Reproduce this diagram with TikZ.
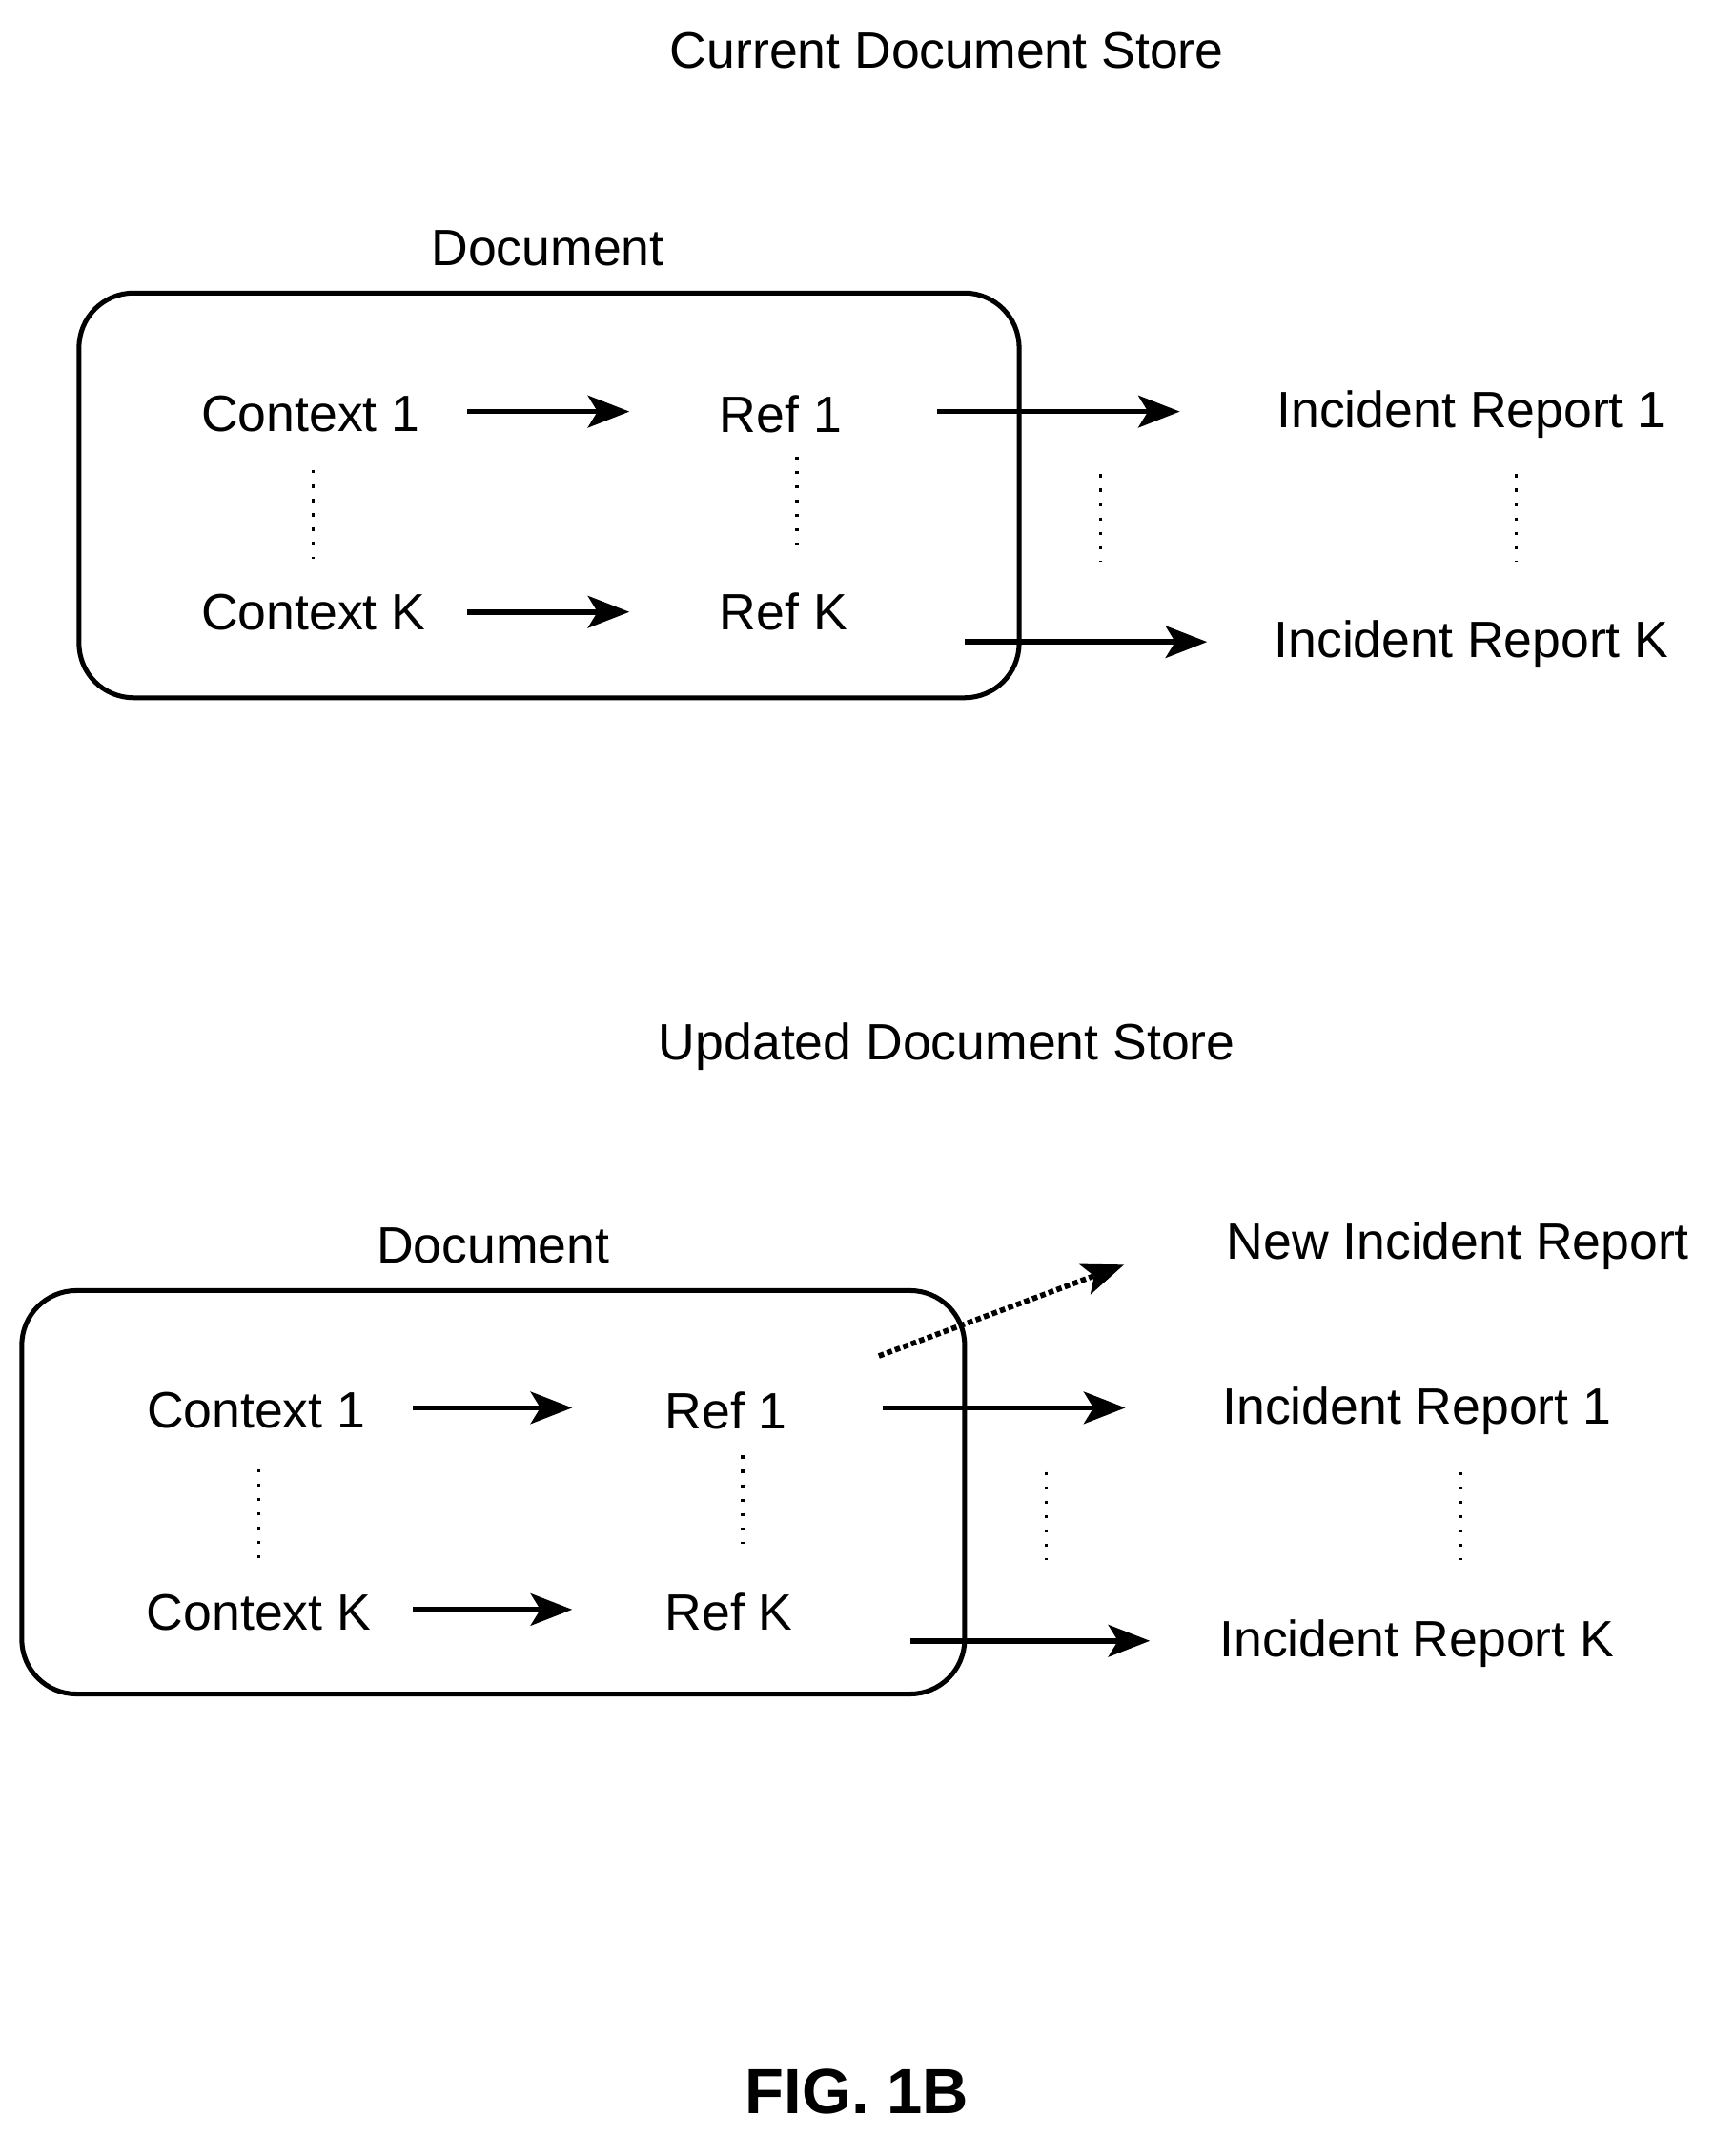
\documentclass[tikz,border=0pt]{standalone}
\usepackage{fontspec}
\setmainfont{Liberation Sans}
\usetikzlibrary{arrows.meta}
\begin{document}
\begin{tikzpicture}[x=0.03cm,y=-0.03cm,
 lbl/.style={font=\fontsize{32}{35}\selectfont,inner sep=0pt},
 arr/.style={line width=3.4pt,-{Stealth[length=26pt,width=20pt,inset=6pt]}},
 darr/.style={line width=3.4pt,dotted,-{Stealth[length=26pt,width=20pt,inset=6pt]}},
 vdot/.style={line width=2pt,dash pattern=on 2pt off 7pt},
 box/.style={line width=3pt,rounded corners=40*0.03cm}]
\useasboundingbox (0,0) rectangle (1273,1582);
% top
\node[lbl] (t1) at (695,37) {Current Document Store};
\node[lbl] (d1) at (402,182) {Document};
\draw[box] (58,215) rectangle (748,512);
\node[lbl] (c1) at (228,304) {Context 1};
\node[lbl] (r1) at (573,304) {Ref 1};
\node[lbl] (i1) at (1080,304) {Incident Report 1};
\node[lbl] (ck) at (230,449) {Context K};
\node[lbl] (rk) at (575,449) {Ref K};
\node[lbl] (ik) at (1080,473) {Incident Report K};
\draw[arr] (343,302) coordinate (a1) -- (462,302) coordinate (b1);
\draw[arr] (688,302) coordinate (a2) -- (866,302) coordinate (b2);
\draw[arr] (343,449) coordinate (a3) -- (462,449) coordinate (b3);
\draw[arr] (708,471) coordinate (a4) -- (886,471) coordinate (b4);
\foreach \x/\a/\b in {230/345/410,585/335/400,808/348/412,1113/348/412}
  \draw[vdot] (\x,\a) -- (\x,\b);
% bottom
\node[lbl] (t2) at (695,768) {Updated Document Store};
\node[lbl] (d2) at (362,914) {Document};
\draw[box] (16,947) rectangle (708,1243);
\node[lbl] (n2) at (1070,914) {New Incident Report};
\node[lbl] (c2) at (188,1035) {Context 1};
\node[lbl] (r2) at (533,1035) {Ref 1};
\node[lbl] (i2) at (1040,1035) {Incident Report 1};
\node[lbl] (ck2) at (190,1183) {Context K};
\node[lbl] (rk2) at (535,1183) {Ref K};
\node[lbl] (ik2) at (1040,1206) {Incident Report K};
\draw[darr] (645,995) coordinate (a5) -- (825,928) coordinate (b5);
\draw[arr] (303,1033) coordinate (a6) -- (420,1033) coordinate (b6);
\draw[arr] (648,1033) coordinate (a7) -- (826,1033) coordinate (b7);
\draw[arr] (303,1181) coordinate (a8) -- (420,1181) coordinate (b8);
\draw[arr] (668,1204) coordinate (a9) -- (844,1204) coordinate (b9);
\foreach \x/\a/\b in {190/1078/1145,545/1068/1133,768/1080/1145,1072/1080/1145}
  \draw[vdot] (\x,\a) -- (\x,\b);
\node[font=\fontsize{40}{44}\selectfont\bfseries,inner sep=0pt] (fig) at (629,1535) {FIG. 1B};
\end{tikzpicture}
\end{document}
